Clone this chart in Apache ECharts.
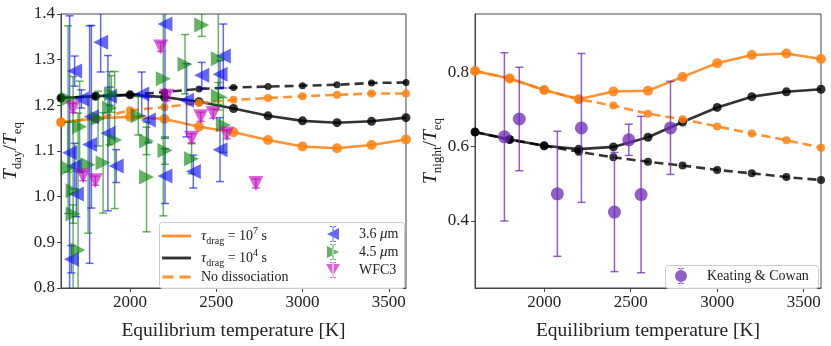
<!DOCTYPE html>
<html>
<head>
<meta charset="utf-8">
<script src="https://cdn.jsdelivr.net/npm/echarts@6/dist/echarts.min.js"></script>
<style>
html, body { margin: 0; padding: 0; background: #fff; }
#container { width: 831px; height: 346px; }
</style>
</head>
<body>
<div id="container"></div>
<script>
// model grid of equilibrium temperatures
var tGrid = [1600, 1800, 2000, 2200, 2400, 2600, 2800, 3000, 3200, 3400, 3600];

// dayside / Teq
var dayTau7 = [1.163, 1.171, 1.175, 1.170, 1.153, 1.141, 1.124, 1.110, 1.106, 1.113, 1.125];
var dayTau4 = [1.216, 1.220, 1.223, 1.218, 1.208, 1.193, 1.177, 1.166, 1.162, 1.165, 1.173];
var dayTau7NoDiss = [1.163, 1.171, 1.189, 1.196, 1.205, 1.212, 1.216, 1.220, 1.223, 1.226, 1.226];
var dayTau4NoDiss = [1.216, 1.220, 1.223, 1.229, 1.236, 1.239, 1.241, 1.243, 1.245, 1.249, 1.250];

// nightside / Teq
var nightTau7 = [0.803, 0.783, 0.752, 0.727, 0.748, 0.750, 0.787, 0.824, 0.846, 0.850, 0.835];
var nightTau4 = [0.639, 0.619, 0.602, 0.593, 0.599, 0.625, 0.666, 0.705, 0.734, 0.747, 0.754];
var nightTau7NoDiss = [0.803, 0.783, 0.752, 0.727, 0.710, 0.688, 0.673, 0.654, 0.635, 0.617, 0.597];
var nightTau4NoDiss = [0.639, 0.619, 0.602, 0.586, 0.571, 0.559, 0.549, 0.537, 0.528, 0.518, 0.510];

// observations: [Teq, value, error]
var irac36 = [
  [1650, 1.096, 0.30], [1660, 0.863, 0.03], [1679, 1.275, 0.033], [1679, 1.067, 0.05],
  [1689, 1.006, 0.05], [1718, 1.214, 0.02], [1766, 1.114, 0.26], [1776, 1.175, 0.20],
  [1830, 1.338, 0.065], [1872, 1.139, 0.17], [1882, 1.220, 0.02], [1920, 1.067, 0.036],
  [2068, 1.225, 0.048], [2106, 1.168, 0.05], [2203, 1.378, 0.25], [2203, 1.045, 0.06],
  [2328, 1.211, 0.08], [2367, 1.055, 0.036], [2416, 1.266, 0.028], [2522, 1.103, 0.07],
  [2522, 1.268, 0.03], [2541, 1.308, 0.07]
];
var irac45 = [
  [1641, 1.214, 0.16], [1641, 1.063, 0.10], [1670, 1.013, 0.25], [1670, 0.962, 0.02],
  [1699, 0.883, 0.30], [1708, 1.153, 0.10], [1757, 1.070, 0.15], [1815, 1.171, 0.06],
  [1844, 1.074, 0.11], [1882, 1.194, 0.08], [1892, 1.225, 0.04], [1911, 1.124, 0.15],
  [2048, 1.177, 0.042], [2096, 1.122, 0.03], [2096, 1.043, 0.12], [2193, 1.258, 0.30],
  [2203, 1.101, 0.03], [2319, 1.290, 0.065], [2357, 1.083, 0.033], [2416, 1.376, 0.025],
  [2512, 1.302, 0.10], [2512, 1.220, 0.03], [2541, 1.157, 0.06]
];
var wfc3 = [
  [1670, 1.194, 0.01], [1728, 1.045, 0.01], [1799, 1.035, 0.01], [2178, 1.328, 0.01],
  [2213, 1.220, 0.01], [2357, 1.128, 0.01], [2410, 1.175, 0.01], [2483, 1.182, 0.01],
  [2561, 1.137, 0.01], [2730, 1.029, 0.01]
];
var keatingCowan = [
  [1770, 0.626, 0.226], [1856, 0.674, 0.139], [2076, 0.473, 0.168], [2215, 0.650, 0.200],
  [2406, 0.424, 0.160], [2489, 0.618, 0.042], [2560, 0.471, 0.210], [2730, 0.650, 0.125]
];

var xTicks = [2000, 2500, 3000, 3500];
var nightTicks = [0.4, 0.6, 0.8];

var FONT = "'Liberation Serif', 'Times New Roman', serif";
var ORANGE = 'rgba(255,127,14,0.85)';
var BLACK = 'rgba(0,0,0,0.8)';
var BLUE = 'rgba(0,0,255,0.6)';
var GREEN = 'rgba(0,128,0,0.6)';
var MAGENTA = 'rgba(191,0,191,0.6)';
var PURPLE = 'rgba(110,40,180,0.75)';

function pairs(ys) {
  return tGrid.map(function (t, i) { return [t, ys[i]]; });
}
function pts(arr) {
  return arr.map(function (d) { return [d[0], d[1]]; });
}

function errRender(color, cap, lw) {
  return function (params, api) {
    var x = api.value(0), y = api.value(1), e = api.value(2);
    var hi = api.coord([x, y + e]);
    var lo = api.coord([x, y - e]);
    var st = { stroke: color, lineWidth: lw, fill: null };
    return {
      type: 'group',
      children: [
        { type: 'line', shape: { x1: hi[0], y1: hi[1], x2: lo[0], y2: lo[1] }, style: st },
        { type: 'line', shape: { x1: hi[0] - cap, y1: hi[1], x2: hi[0] + cap, y2: hi[1] }, style: st },
        { type: 'line', shape: { x1: lo[0] - cap, y1: lo[1], x2: lo[0] + cap, y2: lo[1] }, style: st }
      ]
    };
  };
}

function lineSeries(name, xi, ys, color, dashed, size) {
  return {
    name: name, type: 'line', xAxisIndex: xi, yAxisIndex: xi,
    data: pairs(ys), symbol: 'circle', symbolSize: size, z: 2,
    lineStyle: { color: color, width: 2.6, type: dashed ? [9, 5] : 'solid' },
    itemStyle: { color: color }, animation: false
  };
}

function errSeries(xi, arr, color, cap) {
  return {
    type: 'custom', xAxisIndex: xi, yAxisIndex: xi, data: arr, clip: true, z: 3,
    encode: { x: 0, y: 1 }, renderItem: errRender(color, cap, 1.5), silent: true
  };
}

function dotSeries(name, xi, arr, color, symbol, rot, size) {
  return {
    name: name, type: 'scatter', xAxisIndex: xi, yAxisIndex: xi, data: pts(arr),
    symbol: symbol, symbolRotate: rot, symbolSize: size, z: 4,
    itemStyle: { color: color, opacity: 1 }
  };
}

var rich = {
  i: { fontFamily: FONT, fontStyle: 'italic', fontSize: 19.5, color: '#222', lineHeight: 26, verticalAlign: 'middle' },
  n: { fontFamily: FONT, fontSize: 19.5, color: '#222', lineHeight: 26, verticalAlign: 'middle' },
  s: { fontFamily: FONT, fontSize: 13, color: '#222', lineHeight: 26, verticalAlign: 'bottom' }
};

var legRich = {
  i: { fontFamily: FONT, fontStyle: 'italic', fontSize: 15, color: '#222', lineHeight: 20, verticalAlign: 'middle' },
  n: { fontFamily: FONT, fontSize: 14, color: '#222', lineHeight: 20, verticalAlign: 'middle' },
  s: { fontFamily: FONT, fontSize: 10, color: '#222', lineHeight: 20, verticalAlign: 'bottom' },
  p: { fontFamily: FONT, fontSize: 10, color: '#222', lineHeight: 20, verticalAlign: 'top' },
  g: { fontFamily: FONT, fontSize: 14, color: '#222', lineHeight: 20, verticalAlign: 'middle', padding: [0, 0, 0, 14] }
};

function xAxis(gi) {
  return {
    type: 'value', gridIndex: gi, min: 1600, max: 3600,
    name: 'Equilibrium temperature [K]', nameLocation: 'middle', nameGap: 33,
    nameTextStyle: { fontFamily: FONT, fontSize: 19.5, color: '#222' },
    axisLine: { show: true, lineStyle: { color: '#444', width: 1 } },
    axisTick: { show: true, length: 4, customValues: xTicks, lineStyle: { color: '#444' } },
    axisLabel: {
      customValues: xTicks, fontFamily: FONT, fontSize: 17, color: '#222', margin: 6,
      formatter: function (v) { return String(v); }
    },
    splitLine: { show: false }
  };
}

var tickLabel = function (v) { return v.toFixed(1); };

var option = {
  animation: false,
  backgroundColor: '#fff',
  textStyle: { fontFamily: FONT },
  grid: [
    { left: 61, top: 14, width: 345, height: 278, show: true, borderColor: '#444', borderWidth: 1 },
    { left: 475, top: 14, width: 346, height: 277, show: true, borderColor: '#444', borderWidth: 1 }
  ],
  xAxis: [xAxis(0), xAxis(1)],
  yAxis: [
    {
      type: 'value', gridIndex: 0, min: 0.8, max: 1.4, interval: 0.1,
      name: '{i|T}{s|day}{n|/}{i|T}{s|eq}', nameLocation: 'middle', nameGap: 37, nameRotate: 90,
      nameTextStyle: { rich: rich },
      axisLine: { show: true, lineStyle: { color: '#444' } },
      axisTick: { show: true, length: 4, lineStyle: { color: '#444' } },
      axisLabel: { formatter: tickLabel, fontFamily: FONT, fontSize: 17, color: '#222', margin: 6 },
      splitLine: { show: false }
    },
    {
      type: 'value', gridIndex: 1, min: 0.22, max: 0.956,
      name: '{i|T}{s|night}{n|/}{i|T}{s|eq}', nameLocation: 'middle', nameGap: 30, nameRotate: 90,
      nameTextStyle: { rich: rich },
      axisLine: { show: true, lineStyle: { color: '#444' } },
      axisTick: { show: true, length: 4, customValues: nightTicks, lineStyle: { color: '#444' } },
      axisLabel: { customValues: nightTicks, formatter: tickLabel, fontFamily: FONT, fontSize: 17, color: '#222', margin: 6 },
      splitLine: { show: false }
    }
  ],
  graphic: [
    { type: 'rect', z: 50, shape: { x: 159.5, y: 222.5, width: 245, height: 66, r: 3 },
      style: { fill: 'rgba(255,255,255,0.85)', stroke: '#ccc', lineWidth: 1 } },
    { type: 'rect', z: 50, shape: { x: 665.5, y: 265.5, width: 153, height: 23, r: 3 },
      style: { fill: 'rgba(255,255,255,0.85)', stroke: '#ccc', lineWidth: 1 } }
  ],
  legend: [
    {
      orient: 'vertical', left: 162, top: 226, itemGap: 2, itemWidth: 29, itemHeight: 3,
      z: 60, selectedMode: false, padding: 0,
      data: [
        { name: 'tau7', icon: 'path://M0,0h30v3h-30z', itemStyle: { color: ORANGE } },
        { name: 'tau4', icon: 'path://M0,0h30v3h-30z', itemStyle: { color: BLACK } },
        { name: 'nodiss', icon: 'path://M0,0h11v3h-11z M17,0h11v3h-11z', itemStyle: { color: ORANGE } }
      ],
      formatter: function (name) {
        if (name === 'tau7') return '{i|τ}{s|drag}{n| = 10}{p|7}{n| s}';
        if (name === 'tau4') return '{i|τ}{s|drag}{n| = 10}{p|4}{n| s}';
        return '{n|No dissociation}';
      },
      textStyle: { rich: legRich, padding: [0, 0, 0, 5] }
    },
    {
      orient: 'vertical', left: 326, top: 226, itemGap: 2, itemWidth: 14, itemHeight: 16,
      z: 60, selectedMode: false, padding: 0,
      data: [
        { name: '3.6 μm', icon: 'path://M13,2L1,8L13,14Z M6.5,0v16h1v-16z M4,0h6v1h-6z M4,15h6v1h-6z', itemStyle: { color: BLUE } },
        { name: '4.5 μm', icon: 'path://M1,2L13,8L1,14Z M6.5,0v16h1v-16z M4,0h6v1h-6z M4,15h6v1h-6z', itemStyle: { color: GREEN } },
        { name: 'WFC3', icon: 'path://M1,2L15,2L8,14Z M7.5,0v16h1v-16z M5,0h6v1h-6z M5,15h6v1h-6z', itemStyle: { color: MAGENTA } }
      ],
      formatter: function (name) {
        if (name === 'WFC3') return '{g|WFC3}';
        return '{g|' + name.split(' ')[0] + ' }{i|μ}{n|m}';
      },
      textStyle: { rich: legRich }
    },
    {
      orient: 'vertical', left: 675, top: 268, itemWidth: 14, itemHeight: 16,
      z: 60, selectedMode: false, padding: 0,
      data: [
        { name: 'Keating & Cowan', icon: 'path://M2,8a6,6 0 1,0 12,0a6,6 0 1,0 -12,0z M7.5,0v16h1v-16z M5,0h6v1h-6z M5,15h6v1h-6z', itemStyle: { color: PURPLE } }
      ],
      formatter: function (name) { return '{g|' + name + '}'; },
      textStyle: { rich: legRich }
    }
  ],
  series: [
    lineSeries('tau7', 0, dayTau7, ORANGE, false, 10),
    lineSeries('tau4', 0, dayTau4, BLACK, false, 9),
    lineSeries('nodiss', 0, dayTau7NoDiss, ORANGE, true, 8),
    lineSeries('tau4nd', 0, dayTau4NoDiss, BLACK, true, 7),
    errSeries(0, irac36, BLUE, 4),
    errSeries(0, irac45, GREEN, 4),
    errSeries(0, wfc3, MAGENTA, 4),
    dotSeries('3.6 μm', 0, irac36, BLUE, 'triangle', 90, 15),
    dotSeries('4.5 μm', 0, irac45, GREEN, 'triangle', -90, 15),
    dotSeries('WFC3', 0, wfc3, MAGENTA, 'triangle', 180, 15),

    lineSeries('n7', 1, nightTau7, ORANGE, false, 10),
    lineSeries('n4', 1, nightTau4, BLACK, false, 9),
    lineSeries('n7nd', 1, nightTau7NoDiss, ORANGE, true, 8),
    lineSeries('n4nd', 1, nightTau4NoDiss, BLACK, true, 8),
    errSeries(1, keatingCowan, PURPLE, 4),
    dotSeries('Keating & Cowan', 1, keatingCowan, PURPLE, 'circle', 0, 13)
  ]
};

var myChart = echarts.init(document.getElementById('container'));
myChart.setOption(option);
</script>
</body>
</html>
